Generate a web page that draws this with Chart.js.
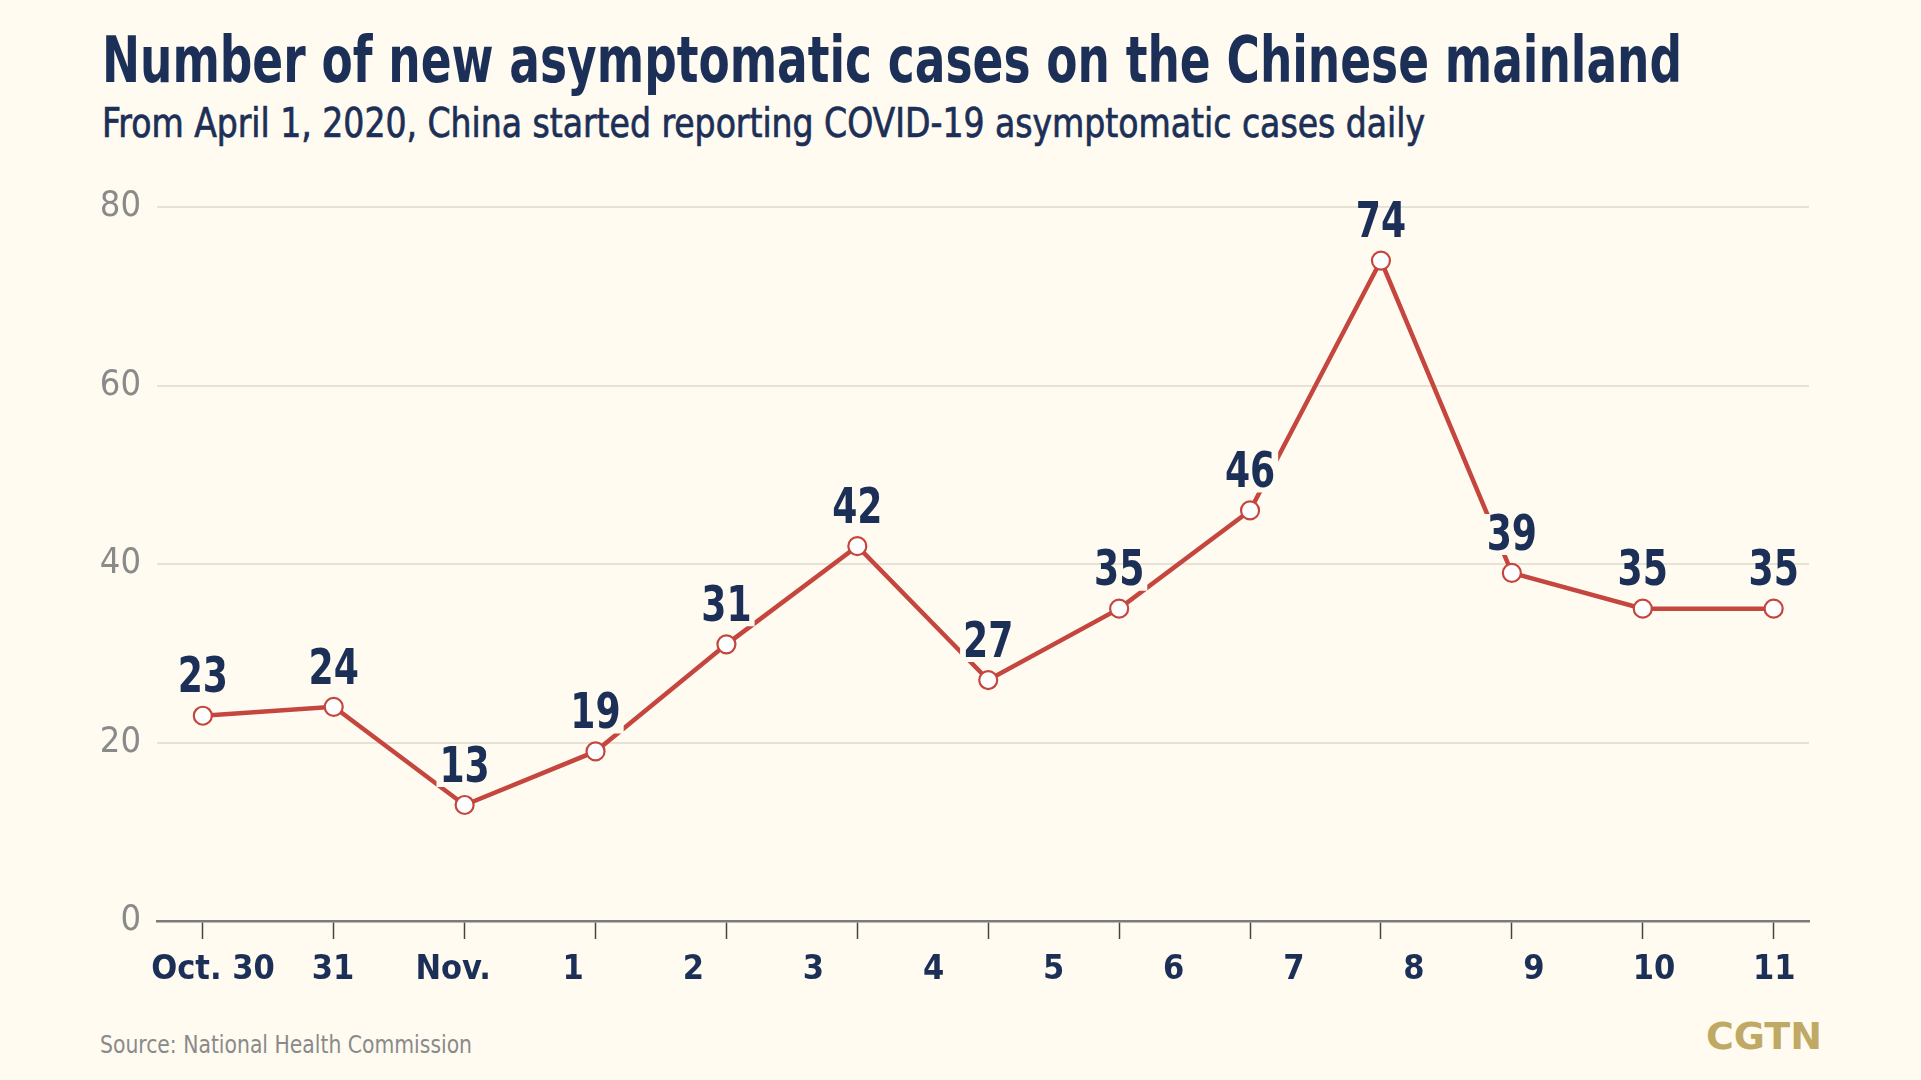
<!DOCTYPE html>
<html lang="en">
<head>
  <meta charset="UTF-8">
  <title>Number of new asymptomatic cases on the Chinese mainland</title>
  <script src="https://cdn.jsdelivr.net/npm/chart.js"></script>
  <style>
    * { box-sizing: border-box; }
    html, body { margin: 0; padding: 0; }
    body { width: 1921px; height: 1080px; background: #fffbf0; position: relative; overflow: hidden;
           font-family: "DejaVu Sans Condensed", sans-serif; color: #1c2f57; }
    h1 { position: absolute; left: 102px; top: 28px; margin: 0; font-size: 64px; line-height: 1; font-weight: bold; white-space: nowrap; }
    .sub { position: absolute; left: 102px; top: 103px; font-size: 40px; line-height: 1; white-space: nowrap; -webkit-text-stroke: 0.7px #1c2f57; }
    .chart-box { position: absolute; left: 0; top: 160px; width: 1921px; height: 850px; }
    .source { position: absolute; left: 100px; top: 1032px; font-size: 25px; line-height: 1; color: #8a8a8a; white-space: nowrap; }
    .logo { position: absolute; left: 1706px; top: 1017px; font-size: 38px; line-height: 1; font-weight: bold; color: #bfa964; font-family: "DejaVu Sans", sans-serif; white-space: nowrap; }
  </style>
</head>
<body>
  <h1 data-w="1580">Number of new asymptomatic cases on the Chinese mainland</h1>
  <div class="sub" data-w="1323">From April 1, 2020, China started reporting COVID-19 asymptomatic cases daily</div>
  <div class="chart-box"><canvas id="chart"></canvas></div>
  <div class="source" data-w="372">Source: National Health Commission</div>
  <div class="logo" data-w="116">CGTN</div>

  <script>
    // values printed on the chart, one per day
    const caseCounts = [23, 24, 13, 19, 31, 42, 27, 35, 46, 74, 39, 35, 35];
    // date labels under the axis (the original has one more label than points)
    const dayLabels = ['Oct. 30', '31', 'Nov.', '1', '2', '3', '4', '5', '6', '7', '8', '9', '10', '11'];
    const yTicks = [0, 20, 40, 60, 80];

    const FONT = '"DejaVu Sans Condensed", sans-serif';
    const NAVY = '#1c2f57';
    const RED = '#c4463e';
    const LABEL_FONT = 'bold 49px ' + FONT;
    const LABEL_SQUEEZE = 0.82;
    const LABEL_GAP = 38;

    // the original type is narrower than anything installed, so squeeze the text blocks
    document.querySelectorAll('[data-w]').forEach(el => {
      const r = +el.dataset.w / el.getBoundingClientRect().width;
      el.style.transformOrigin = '0 0';
      el.style.transform = 'scaleX(' + r + ')';
    });

    function labelBoxes(chart) {
      const ctx = chart.ctx;
      ctx.save();
      ctx.font = LABEL_FONT;
      const boxes = chart.getDatasetMeta(0).data.map((pt, i) => {
        const w = ctx.measureText(String(caseCounts[i])).width * LABEL_SQUEEZE;
        return { x: pt.x, y: pt.y - LABEL_GAP, w: w, h: 34 };
      });
      ctx.restore();
      return boxes;
    }

    // line is cut out where a number sits on it, then numbers are drawn
    const pointLabels = {
      id: 'pointLabels',
      beforeDatasetsDraw(chart) {
        const ctx = chart.ctx;
        ctx.save();
        ctx.beginPath();
        ctx.rect(0, 0, chart.width, chart.height);
        labelBoxes(chart).forEach(b => {
          ctx.rect(b.x - b.w / 2 - 3, b.y - b.h / 2 - 4, b.w + 6, b.h + 7);
        });
        ctx.clip('evenodd');
      },
      afterDatasetsDraw(chart) {
        const ctx = chart.ctx;
        ctx.restore();
        labelBoxes(chart).forEach((b, i) => {
          ctx.save();
          ctx.font = LABEL_FONT;
          ctx.fillStyle = NAVY;
          ctx.textAlign = 'center';
          ctx.textBaseline = 'middle';
          ctx.translate(b.x, b.y + 2);
          ctx.scale(LABEL_SQUEEZE, 1);
          ctx.fillText(String(caseCounts[i]), 0, 0);
          ctx.restore();
        });
      }
    };

    new Chart(document.getElementById('chart'), {
      type: 'line',
      data: {
        datasets: [{
          data: caseCounts.map((v, i) => ({ x: i, y: v })),
          borderColor: RED,
          borderWidth: 4.5,
          pointRadius: 9,
          pointBorderWidth: 2.2,
          pointBackgroundColor: '#ffffff',
          pointBorderColor: RED,
          tension: 0
        }]
      },
      options: {
        responsive: true,
        maintainAspectRatio: false,
        animation: false,
        events: [],
        layout: { padding: { top: 47, right: 112, bottom: 0, left: 0 } },
        plugins: { legend: { display: false }, tooltip: { enabled: false } },
        scales: {
          x: {
            type: 'linear',
            min: -0.35,
            max: 12.27,
            afterBuildTicks: s => { s.ticks = caseCounts.map((_, i) => ({ value: i })); },
            afterFit: s => { s.height = 18; },
            ticks: { display: false },
            grid: { drawOnChartArea: false, drawTicks: true, tickLength: 18, tickColor: '#444444', tickWidth: 1.5 },
            border: { color: '#7b7b7b', width: 2.5 }
          },
          xl: {
            type: 'linear',
            position: 'bottom',
            weight: 1,
            min: -0.466,
            max: 13.29,
            afterBuildTicks: s => { s.ticks = dayLabels.map((_, i) => ({ value: i })); },
            afterFit: s => { s.height = 71; },
            ticks: {
              autoSkip: false, maxRotation: 0, padding: 11,
              color: NAVY, font: { family: FONT, size: 34, weight: 'bold' },
              callback: v => dayLabels[v]
            },
            grid: { display: false, drawTicks: false },
            border: { display: false }
          },
          y: {
            min: 0,
            max: 80,
            afterBuildTicks: s => { s.ticks = yTicks.map(v => ({ value: v })); },
            afterFit: s => { s.width = 157; },
            ticks: { padding: 16, color: '#8a8a8a', font: { family: FONT, size: 36 } },
            grid: { color: '#e6e2d6', lineWidth: 2, drawTicks: false },
            border: { display: false }
          }
        }
      },
      plugins: [pointLabels]
    });
  </script>
</body>
</html>
